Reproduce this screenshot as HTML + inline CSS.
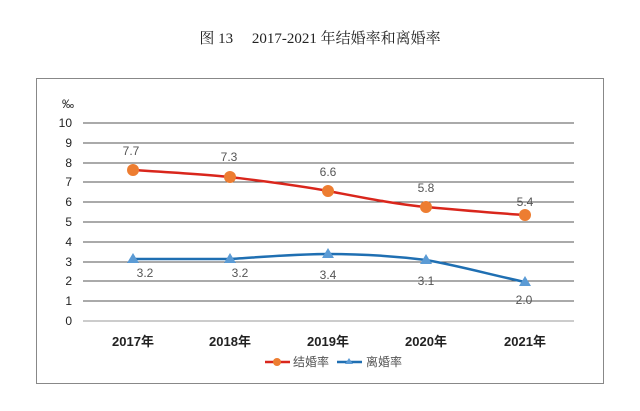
<!DOCTYPE html>
<html><head><meta charset="utf-8"><style>
body{margin:0;background:#fff;width:640px;height:406px;overflow:hidden}
</style></head><body>
<svg width="640" height="406" xmlns="http://www.w3.org/2000/svg" font-family="Liberation Sans, Noto Sans CJK SC, sans-serif">
<text x="320" y="43" text-anchor="middle" font-family="Liberation Serif, Noto Serif CJK SC, serif" font-size="15" fill="#222" xml:space="preserve">图 13     2017-2021 年结婚率和离婚率</text>
<rect x="36.5" y="78.5" width="567" height="305" fill="none" stroke="#888" stroke-width="1"/>
<g stroke="#555" stroke-width="1">
<line x1="83" x2="574" y1="123" y2="123"/><line x1="83" x2="574" y1="143" y2="143"/><line x1="83" x2="574" y1="163" y2="163"/><line x1="83" x2="574" y1="182" y2="182"/><line x1="83" x2="574" y1="202" y2="202"/><line x1="83" x2="574" y1="222" y2="222"/><line x1="83" x2="574" y1="242" y2="242"/><line x1="83" x2="574" y1="262" y2="262"/><line x1="83" x2="574" y1="281" y2="281"/><line x1="83" x2="574" y1="301" y2="301"/>
</g>
<line x1="83" x2="574" y1="321" y2="321" stroke="#bbb" stroke-width="1.5"/>
<g font-size="12" fill="#222" text-anchor="end">
<text x="72" y="127">10</text><text x="72" y="147">9</text><text x="72" y="167">8</text><text x="72" y="186">7</text><text x="72" y="206">6</text><text x="72" y="226">5</text><text x="72" y="246">4</text><text x="72" y="266">3</text><text x="72" y="285">2</text><text x="72" y="305">1</text><text x="72" y="325">0</text>
<text x="74" y="108">‰</text>
</g>
<g font-size="13" font-weight="bold" fill="#222" text-anchor="middle">
<text x="133" y="346">2017年</text><text x="230" y="346">2018年</text><text x="328" y="346">2019年</text><text x="426" y="346">2020年</text><text x="525" y="346">2021年</text>
</g>
<path d="M133 170 C165 172,200 174,230 177 C262 181,296 185,328 191 C360 197,394 204,426 207 C460 210,492 213,525 215" fill="none" stroke="#d9261c" stroke-width="2.5"/>
<path d="M133 259 L230 259 C262 257,296 254,328 254 C360 254,394 256,426 260 C460 266,492 275,525 282" fill="none" stroke="#1f6fb2" stroke-width="2.5"/>
<g fill="#ed7d31">
<circle cx="133" cy="170" r="6"/><circle cx="230" cy="177" r="6"/><circle cx="328" cy="191" r="6"/><circle cx="426" cy="207" r="6"/><circle cx="525" cy="215" r="6"/>
</g>
<g fill="#5b9bd5">
<path d="M133 253 l6 10 h-12z"/><path d="M230 253 l6 10 h-12z"/><path d="M328 248 l6 10 h-12z"/><path d="M426 254 l6 10 h-12z"/><path d="M525 276 l6 10 h-12z"/>
</g>
<g font-size="12" fill="#555" text-anchor="middle">
<text x="131" y="155">7.7</text><text x="229" y="161">7.3</text><text x="328" y="176">6.6</text><text x="426" y="192">5.8</text><text x="525" y="206">5.4</text>
<text x="145" y="277">3.2</text><text x="240" y="277">3.2</text><text x="328" y="279">3.4</text><text x="426" y="285">3.1</text><text x="524" y="304">2.0</text>
</g>
<line x1="265" x2="290" y1="362" y2="362" stroke="#d9261c" stroke-width="2.5"/>
<circle cx="277" cy="362" r="4" fill="#ed7d31"/>
<text x="293" y="366" font-size="12" fill="#555">结婚率</text>
<line x1="337" x2="362" y1="362" y2="362" stroke="#1f6fb2" stroke-width="2.5"/>
<path d="M349 358 l4 6 h-8z" fill="#5b9bd5"/>
<text x="366" y="366" font-size="12" fill="#555">离婚率</text>
</svg>
</body></html>
